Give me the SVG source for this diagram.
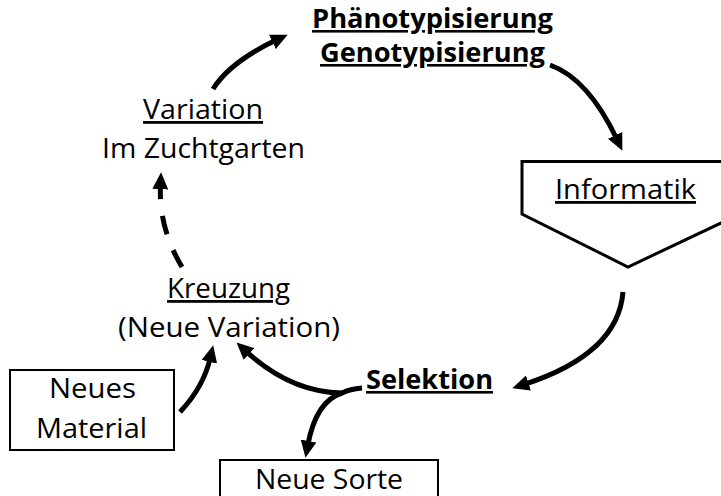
<svg xmlns="http://www.w3.org/2000/svg" width="721" height="496" viewBox="0 0 721 496">
<defs>
<style>
text{font-family:"Open Sans","Noto Sans",sans-serif;font-size:28px;fill:#000;text-anchor:middle}
.b{font-weight:bold;font-size:26px}
.u{text-decoration:underline}
.box{fill:#fff;stroke:#000;stroke-width:2}
.c{fill:none;stroke:#000;stroke-width:5}
.d{stroke-dasharray:19 17}
</style>
<marker id="ah" markerUnits="userSpaceOnUse" markerWidth="18" markerHeight="16" refX="4" refY="7.5" orient="auto" viewBox="0 0 17 15">
<path d="M0,0 L16,7.5 L0,15 z" fill="#000"/>
</marker>
</defs>
<rect width="721" height="496" fill="#fff"/>
<g id="connectors">
<path class="c" d="M213,89 Q230,62 276.2,40.1" marker-end="url(#ah)"/>
<path class="c" d="M550,65 Q588,78.5 616.9,139.2" marker-end="url(#ah)"/>
<path class="c" d="M623,292 Q618,354 524.4,384.3" marker-end="url(#ah)"/>
<path class="c d" d="M182,267 Q158.5,228 160.5,185" marker-end="url(#ah)"/>
<path class="c" d="M180,412 Q203.5,387 210.3,357.7" marker-end="url(#ah)"/>
<path class="c" d="M362,388 Q350,389 342,393 Q290.5,392 245.9,351.1" marker-end="url(#ah)"/>
<path class="c" d="M342,393 Q316,401 307.8,445.2" marker-end="url(#ah)"/>
</g>
<g id="phaeno">
<text class="b u" x="432.5" y="28" textLength="241" lengthAdjust="spacingAndGlyphs">Phänotypisierung</text>
<text class="b u" x="432.5" y="62" textLength="225" lengthAdjust="spacingAndGlyphs">Genotypisierung</text>
</g>
<g id="informatik">
<path d="M522,161.5 L740,161.5 L740,214 L628,267 L522,214 z" fill="#fff" stroke="#000" stroke-width="3"/>
<text class="u" x="625.5" y="199" textLength="141" lengthAdjust="spacingAndGlyphs">Informatik</text>
</g>
<g id="variation">
<text class="u" x="203" y="119" textLength="120" lengthAdjust="spacingAndGlyphs">Variation</text>
<text x="203.5" y="158" textLength="203" lengthAdjust="spacingAndGlyphs">Im Zuchtgarten</text>
</g>
<g id="kreuzung">
<text class="u" x="228.5" y="298" textLength="123" lengthAdjust="spacingAndGlyphs">Kreuzung</text>
<text x="229" y="337" textLength="222" lengthAdjust="spacingAndGlyphs">(Neue Variation)</text>
</g>
<g id="selektion">
<text class="b u" x="429.5" y="389" textLength="127" lengthAdjust="spacingAndGlyphs">Selektion</text>
</g>
<g id="neues-material">
<rect class="box" x="10" y="370" width="164" height="80"/>
<text x="92.5" y="398" textLength="87" lengthAdjust="spacingAndGlyphs">Neues</text>
<text x="91.5" y="438" textLength="111" lengthAdjust="spacingAndGlyphs">Material</text>
</g>
<g id="neue-sorte">
<rect class="box" x="220" y="460" width="218" height="45"/>
<text x="329" y="489" textLength="148" lengthAdjust="spacingAndGlyphs">Neue Sorte</text>
</g>
</svg>
